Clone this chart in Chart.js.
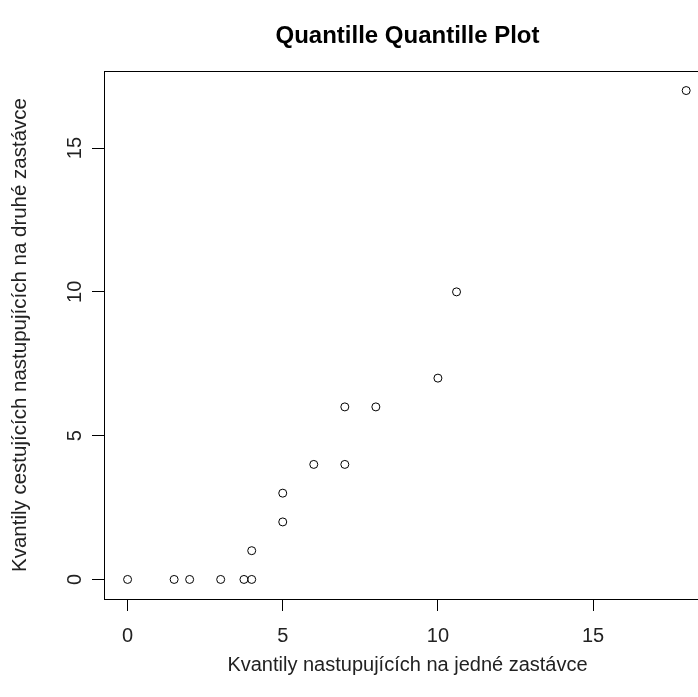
<!DOCTYPE html>
<html>
<head>
<meta charset="utf-8">
<script src="https://cdn.jsdelivr.net/npm/chart.js@4"></script>
<style>
  html, body { margin: 0; padding: 0; background: #fff; overflow: hidden; }
  #wrap { width: 720px; height: 697px; }
</style>
</head>
<body>
<div id="wrap"><canvas id="c" width="720" height="697"></canvas></div>
<script>
// Sorted quantiles (Q-Q pairs)
const xQuantiles = [0, 1.5, 2, 3, 3.75, 4, 4, 5, 5, 6, 7, 7, 8, 10, 10.6, 18];
const yQuantiles = [0, 0, 0, 0, 0, 0, 1, 2, 3, 4, 4, 6, 6, 7, 10, 17];
const xTicks = [0, 5, 10, 15];
const yTicks = [0, 5, 10, 15];
const titleText = 'Quantille Quantille Plot';
const xTitle = 'Kvantily nastupujících na jedné zastávce';
const yTitle = 'Kvantily cestujících nastupujících na druhé zastávce';

const points = xQuantiles.map((x, i) => ({ x: x, y: yQuantiles[i] }));
const FONT = "'Liberation Sans', Arial, sans-serif";

const rPlot = {
  id: 'rPlot',
  afterDraw(chart) {
    const ctx = chart.ctx;
    const a = chart.chartArea;
    ctx.save();
    // box
    ctx.strokeStyle = '#000';
    ctx.lineWidth = 1;
    ctx.strokeRect(Math.round(a.left) + 0.5, Math.round(a.top) + 0.5,
                   Math.round(a.right - a.left), Math.round(a.bottom - a.top));
    // title
    ctx.fillStyle = '#000';
    ctx.font = 'bold 24px ' + FONT;
    ctx.textAlign = 'center';
    ctx.textBaseline = 'middle';
    ctx.fillText(titleText, (a.left + a.right) / 2, 36);
    // rotated y tick labels
    const ys = chart.scales.y;
    ctx.font = '20px ' + FONT;
    ctx.fillStyle = '#222';
    yTicks.forEach(v => {
      const py = ys.getPixelForValue(v);
      ctx.save();
      ctx.translate(75, py);
      ctx.rotate(-Math.PI / 2);
      ctx.textAlign = 'center';
      ctx.textBaseline = 'middle';
      ctx.fillText(String(v), 0, 0);
      ctx.restore();
    });
    ctx.restore();
  }
};

new Chart(document.getElementById('c'), {
  type: 'scatter',
  data: {
    datasets: [{
      data: points,
      pointStyle: 'circle',
      pointRadius: 4,
      pointHoverRadius: 4,
      pointBorderWidth: 1,
      borderColor: '#000',
      backgroundColor: 'rgba(0,0,0,0)'
    }]
  },
  options: {
    responsive: false,
    devicePixelRatio: 1,
    animation: false,
    layout: { padding: { top: 71, right: 9, left: 0, bottom: 0 } },
    plugins: {
      legend: { display: false },
      title: { display: false },
      tooltip: { enabled: false }
    },
    scales: {
      x: {
        type: 'linear',
        min: -0.76,
        max: 18.8,
        afterBuildTicks: s => { s.ticks = xTicks.map(v => ({ value: v })); },
        afterFit: s => { s.height = 98; },
        border: { display: false },
        grid: { display: true, drawOnChartArea: false, drawTicks: true, tickLength: 12, color: '#000', lineWidth: 1 },
        ticks: { autoSkip: false, maxRotation: 0, minRotation: 0, padding: 13, color: '#222', font: { family: FONT, size: 20 } },
        title: { display: true, text: xTitle, color: '#222', font: { family: FONT, size: 20 }, padding: { top: 0, bottom: 20 } }
      },
      y: {
        type: 'linear',
        min: -0.68,
        max: 17.68,
        afterBuildTicks: s => { s.ticks = yTicks.map(v => ({ value: v })); },
        afterFit: s => { s.width = 104; },
        border: { display: false },
        grid: { display: true, drawOnChartArea: false, drawTicks: true, tickLength: 12, color: '#000', lineWidth: 1 },
        ticks: { display: false },
        title: { display: true, text: yTitle, color: '#222', font: { family: FONT, size: 20.5 }, padding: { top: 8, bottom: 0 } }
      }
    }
  },
  plugins: [rPlot]
});
</script>
</body>
</html>
